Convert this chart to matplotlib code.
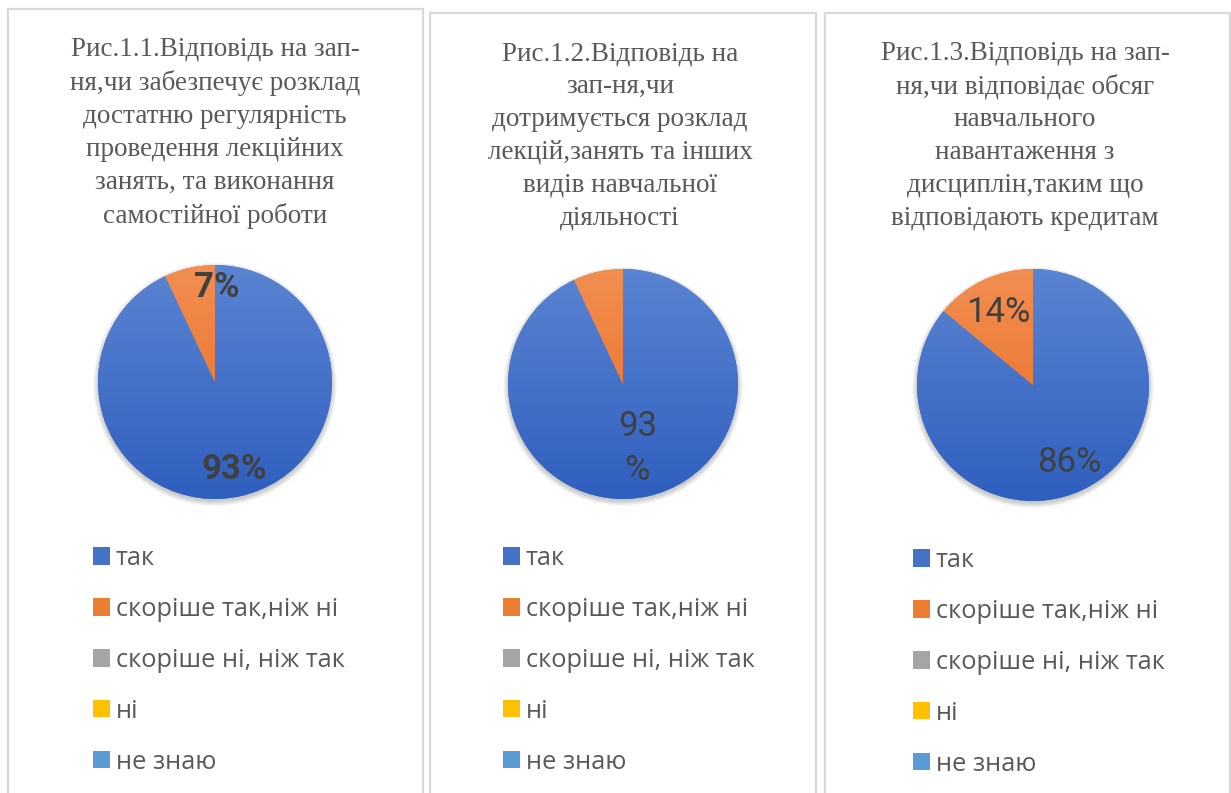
import numpy as np
import matplotlib
matplotlib.use("Agg")
import matplotlib.pyplot as plt
from matplotlib.patches import Rectangle, Patch, Circle
from matplotlib.colors import LinearSegmentedColormap

W, H = 1231, 793
DPI = 100

categories = ["так", "скоріше так,ніж ні", "скоріше ні, ніж так", "ні", "не знаю"]
values_1 = [93, 7, 0, 0, 0]
values_2 = [93, 7, 0, 0, 0]
values_3 = [86, 14, 0, 0, 0]
titles = [
    "Рис.1.1.Відповідь на зап-\nня,чи забезпечує розклад\nдостатню регулярність\nпроведення лекційних\nзанять, та виконання\nсамостійної роботи",
    "Рис.1.2.Відповідь на\nзап-ня,чи\nдотримується розклад\nлекцій,занять та інших\nвидів навчальної\nдіяльності",
    "Рис.1.3.Відповідь на зап-\nня,чи відповідає обсяг\nнавчального\nнавантаження з\nдисциплін,таким що\nвідповідають кредитам",
]
label_texts = [["93%", "7%"], ["93\n%", None], ["86%", "14%"]]

colors_top = ["#5B84D2", "#F28E52", "#B0B0B0", "#FFCB2E", "#6DA8DD"]
colors_bot = ["#2F5FBF", "#E8691B", "#959595", "#EDB400", "#4A8ECF"]
colors_mid = ["#4472C4", "#ED7D31", "#A5A5A5", "#FFC000", "#5B9BD5"]

TEXT_GRAY = "#595959"
LABEL_GRAY = "#404040"
BORDER = "#D9D9D9"

fig = plt.figure(figsize=(W / DPI, H / DPI), dpi=DPI)
fig.patch.set_facecolor("white")

def fx(x):
    return x / W

def fy(y):
    return 1 - y / H

# panel frames (pixels): left, top, right, bottom
panels = [(8, 9, 423, 800), (430, 13, 816, 800), (825, 13, 1230, 800)]
for (l, t, r, b) in panels:
    fig.patches.append(Rectangle((fx(l), fy(b)), fx(r) - fx(l), fy(t) - fy(b),
                                 transform=fig.transFigure, fill=False,
                                 edgecolor=BORDER, linewidth=1.6))

pies = [(215, 382, 117), (623, 384, 115), (1033, 385, 116)]
title_pos = [(215, 133), (620, 136), (1025, 136)]
legend_pos = [(93, 555), (503, 555), (913, 557)]
all_values = [values_1, values_2, values_3]

# label placement: (distance, angle nudge)
label_cfg = [
    [(0.765, 0.0), (0.81, -13.6)],
    [(0.575, 0.0), None],
    [(0.74, 0.0), (0.69, 0.7)],
]
bold = [True, False, False]

for i in range(3):
    cx, cy, r = pies[i]
    ax = fig.add_axes([fx(cx - r), fy(cy + r), 2 * r / W, 2 * r / H])
    vals = all_values[i]
    # soft shadow
    for j in range(6):
        sh = Circle((0, -0.02), 1.0 + 0.008 * j, facecolor="black",
                    alpha=0.035, edgecolor="none", zorder=0, clip_on=False)
        ax.add_patch(sh)
    wedges, _ = ax.pie(vals, colors=colors_mid, startangle=90, counterclock=False,
                       radius=1.0, wedgeprops=dict(linewidth=0))
    for w in wedges:
        w.set_zorder(1)
    grad = np.linspace(0, 1, 256).reshape(-1, 1)
    for k, w in enumerate(wedges):
        if vals[k] <= 0:
            continue
        cmap = LinearSegmentedColormap.from_list("g%d" % k, [colors_top[k], colors_bot[k]])
        im = ax.imshow(grad, extent=[-1, 1, -1, 1], cmap=cmap, origin="upper",
                       aspect="auto", zorder=2)
        im.set_clip_path(w)
    ax.set_xlim(-1.0, 1.0)
    ax.set_ylim(-1.0, 1.0)
    ax.set_aspect("equal")
    ax.axis("off")

    for k in range(2):
        txt = label_texts[i][k]
        cfg = label_cfg[i][k]
        if txt is None or cfg is None:
            continue
        w = wedges[k]
        th = np.deg2rad((w.theta1 + w.theta2) / 2 + cfg[1])
        ax.text(cfg[0] * np.cos(th), cfg[0] * np.sin(th), txt, ha="center", va="center",
                fontsize=25, family="Roboto", color=LABEL_GRAY,
                fontweight="bold" if bold[i] else "normal", zorder=5,
                linespacing=1.42)

    tx, ty = title_pos[i]
    fig.text(fx(tx), fy(ty), titles[i], ha="center", va="center", fontsize=19.5,
             family="Liberation Serif", color=TEXT_GRAY, linespacing=1.42)

    lx, ly = legend_pos[i]
    handles = [Patch(facecolor=c, edgecolor="none") for c in colors_mid]
    fs = 18.3
    fpx = fs * DPI / 72
    leg = fig.legend(handles, categories, loc="upper left",
                     bbox_to_anchor=(fx(lx), fy(ly - 9)), bbox_transform=fig.transFigure,
                     frameon=False, handlelength=17 / fpx, handleheight=17 / fpx,
                     handletextpad=6 / fpx, labelspacing=1.02, borderpad=0, borderaxespad=0,
                     prop=dict(family="Open Sans", size=fs))
    for t in leg.get_texts():
        t.set_color(TEXT_GRAY)

fig.savefig("out.png", dpi=DPI, facecolor="white")
